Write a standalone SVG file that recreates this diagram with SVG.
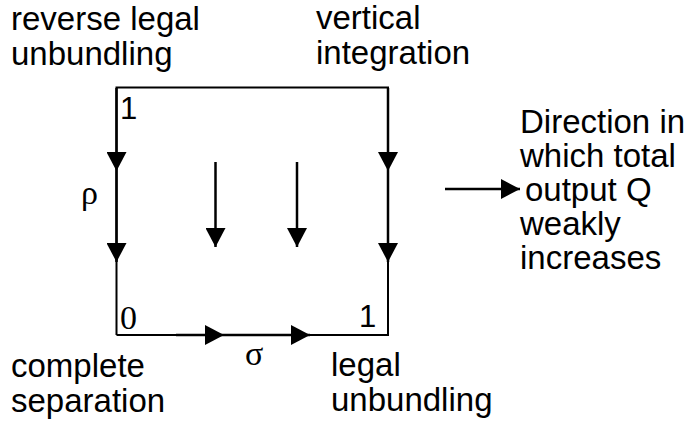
<svg xmlns="http://www.w3.org/2000/svg" width="694" height="424" viewBox="0 0 694 424">
<style>
.lbl{font-family:"Liberation Sans",Arial,sans-serif;font-size:33px;fill:#000}
.num{font-family:"Liberation Sans",Arial,sans-serif;font-size:31px;fill:#000}
.greek{font-family:"Liberation Serif","Times New Roman",serif;font-size:34px;fill:#000}
.box{fill:none;stroke:#000;stroke-width:2}
.arr{fill:none;stroke:#000;stroke-width:2.5;marker-end:url(#ah)}
</style>
<defs>
<marker id="ah" viewBox="0 0 19 20" refX="19" refY="10" markerWidth="19" markerHeight="20" markerUnits="userSpaceOnUse" orient="auto">
<path d="M0,0 L19,10 L0,20 Z" fill="#000"/>
</marker>
</defs>
<rect fill="#fff" width="694" height="424"/>
<g id="box">
<path class="box" d="M116.5,335 V87.5 H388 V335 H116.5"/>
</g>
<g id="connectors">
<path class="arr" d="M116.5,88 V171"/>
<path class="arr" d="M116.5,171 V262"/>
<path class="arr" d="M388,88 V171"/>
<path class="arr" d="M388,171 V262"/>
<path class="arr" d="M215.5,162 V247"/>
<path class="arr" d="M297,162 V247"/>
<path class="arr" d="M176,335 H224"/>
<path class="arr" d="M224,335 H310"/>
<path class="box" d="M310,335 H388"/>
<path class="arr" d="M445,189 H520"/>
</g>
<g id="node-reverse">
<text class="lbl" x="11" y="30">reverse legal</text>
<text class="lbl" x="11" y="65">unbundling</text>
</g>
<g id="node-vertical">
<text class="lbl" x="316" y="29">vertical</text>
<text class="lbl" x="316" y="64">integration</text>
</g>
<g id="node-complete">
<text class="lbl" x="11" y="377">complete</text>
<text class="lbl" x="11" y="412">separation</text>
</g>
<g id="node-legal">
<text class="lbl" x="331" y="376">legal</text>
<text class="lbl" x="331" y="411">unbundling</text>
</g>
<g id="node-direction">
<text class="lbl" x="520" y="133">Direction in</text>
<text class="lbl" x="520" y="167">which total</text>
<text class="lbl" x="525" y="201">output Q</text>
<text class="lbl" x="520" y="235">weakly</text>
<text class="lbl" x="520" y="269">increases</text>
</g>
<g id="axis-labels">
<text class="num" x="120" y="119">1</text>
<text class="greek" x="120" y="329">0</text>
<text class="num" x="359" y="327">1</text>
<text class="greek" x="81" y="204">ρ</text>
<text class="greek" x="245" y="365">σ</text>
</g>
</svg>
